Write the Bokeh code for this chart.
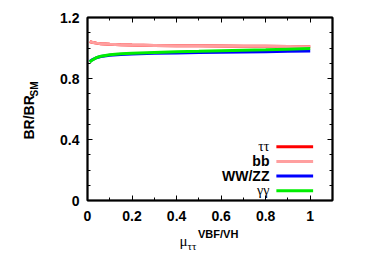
import math
from bokeh.plotting import figure
from bokeh.models import Range1d, FixedTicker, LinearAxis, Label
from bokeh.embed import file_html
from bokeh.resources import INLINE

# ---- data ----
mu = [0.01, 0.02, 0.04, 0.06, 0.10, 0.15, 0.20, 0.30, 0.40, 0.50, 0.60, 0.70, 0.80, 0.90, 1.00]
br_tautau = [1.042, 1.038, 1.032, 1.028, 1.024, 1.021, 1.019, 1.017, 1.015, 1.014, 1.013, 1.012, 1.011, 1.010, 1.008]
br_bb = [1.042, 1.038, 1.032, 1.028, 1.024, 1.021, 1.019, 1.017, 1.015, 1.014, 1.013, 1.012, 1.011, 1.010, 1.008]
br_wwzz = [0.912, 0.922, 0.936, 0.944, 0.953, 0.958, 0.961, 0.965, 0.968, 0.970, 0.972, 0.974, 0.976, 0.978, 0.980]
br_gamgam = [0.908, 0.920, 0.937, 0.946, 0.956, 0.962, 0.966, 0.971, 0.975, 0.978, 0.982, 0.985, 0.988, 0.992, 0.996]

x_ticks = [0, 0.2, 0.4, 0.6, 0.8, 1.0]
x_minor = [0.1, 0.3, 0.5, 0.7, 0.9]
x_labels = ["0", "0.2", "0.4", "0.6", "0.8", "1"]
y_ticks = [0, 0.4, 0.8, 1.2]
y_minor = [0.1, 0.2, 0.3, 0.5, 0.6, 0.7, 0.9, 1.0, 1.1]
y_labels = ["0", "0.4", "0.8", "1.2"]

series_names = ["ττ", "bb", "WW/ZZ", "γγ"]
series_values = [br_tautau, br_bb, br_wwzz, br_gamgam]
series_colors = ["#ff0000", "#ff9f9f", "#0000ff", "#00ee00"]
series_fonts = ["Liberation Serif", "Liberation Sans", "Liberation Sans", "Liberation Serif"]
series_styles = ["normal", "bold", "bold", "normal"]

SANS = "Liberation Sans"
SERIF = "Liberation Serif"

p = figure(
    output_backend="svg", toolbar_location=None,
    frame_width=245, frame_height=183,
    min_border_left=87, min_border_right=42, min_border_top=17, min_border_bottom=62,
    x_range=Range1d(0, 1.1), y_range=Range1d(0, 1.2),
    x_axis_location=None, y_axis_location=None,
)
p.grid.visible = False
p.outline_line_color = "black"
p.outline_line_width = 2
p.background_fill_color = "white"
p.border_fill_color = "white"


def style_axis(ax, labels, standoff):
    ax.axis_line_color = "black"
    ax.axis_line_width = 1.5
    ax.major_tick_in = 5
    ax.major_tick_out = 0
    ax.minor_tick_in = 3
    ax.minor_tick_out = 0
    ax.major_tick_line_width = 1
    ax.minor_tick_line_width = 1
    ax.major_label_standoff = standoff
    ax.major_label_text_font = SANS
    ax.major_label_text_font_style = "bold"
    ax.major_label_text_font_size = "14px"
    ax.major_label_text_color = "black"
    ax.major_label_overrides = labels


def ticks_of(vals, lbls):
    return {v: l for v, l in zip(vals, lbls)}


xb = LinearAxis(ticker=FixedTicker(ticks=x_ticks, minor_ticks=x_minor))
style_axis(xb, ticks_of(x_ticks, x_labels), 10)
p.add_layout(xb, "below")
xa = LinearAxis(ticker=FixedTicker(ticks=x_ticks, minor_ticks=x_minor))
style_axis(xa, ticks_of(x_ticks, [""] * len(x_ticks)), 0)
p.add_layout(xa, "above")
yl = LinearAxis(ticker=FixedTicker(ticks=y_ticks, minor_ticks=y_minor))
style_axis(yl, ticks_of(y_ticks, y_labels), 8)
p.add_layout(yl, "left")
yr = LinearAxis(ticker=FixedTicker(ticks=y_ticks, minor_ticks=y_minor))
style_axis(yr, ticks_of(y_ticks, [""] * len(y_ticks)), 0)
p.add_layout(yr, "right")

# curves
for name, vals, col in zip(series_names, series_values, series_colors):
    p.line(mu, vals, line_color=col, line_width=3)

# legend (label left of the sample line, bottom right)
leg_x_text = 0.817
leg_x0, leg_x1 = 0.848, 1.013
leg_top = 0.352
leg_step = 0.096
for i, (name, col, fnt, sty) in enumerate(zip(series_names, series_colors, series_fonts, series_styles)):
    yy = leg_top - i * leg_step
    p.segment(x0=[leg_x0], y0=[yy], x1=[leg_x1], y1=[yy], line_color=col, line_width=3)
    p.add_layout(Label(x=leg_x_text, y=yy, text=name, text_align="right", text_baseline="middle",
                       text_font=fnt, text_font_style=sty, text_font_size="14px", text_color="black"))

# axis titles placed in side panels (canvas px, top-left origin)
p.add_layout(Label(x=28, y=139, x_units="canvas", y_units="canvas", text="BR/BR", angle=math.pi / 2,
                   text_align="left", text_baseline="middle", text_font=SANS, text_font_style="bold",
                   text_font_size="14px", text_color="black"), "left")
p.add_layout(Label(x=34, y=96, x_units="canvas", y_units="canvas", text="SM", angle=math.pi / 2,
                   text_align="left", text_baseline="middle", text_font=SANS, text_font_style="bold",
                   text_font_size="10px", text_color="black"), "left")
p.add_layout(Label(x=179, y=240, x_units="canvas", y_units="canvas", text="μ", text_align="left",
                   text_baseline="alphabetic", text_font=SERIF, text_font_size="15px", text_color="black"),
             "below")
p.add_layout(Label(x=187, y=245, x_units="canvas", y_units="canvas", text="ττ", text_align="left",
                   text_baseline="alphabetic", text_font=SERIF, text_font_size="11px", text_color="black"),
             "below")
p.add_layout(Label(x=197.5, y=233, x_units="canvas", y_units="canvas", text="VBF/VH", text_align="left",
                   text_baseline="alphabetic", text_font=SANS, text_font_style="bold",
                   text_font_size="11px", text_color="black"), "below")

open("out.html", "w").write(file_html(p, INLINE))
